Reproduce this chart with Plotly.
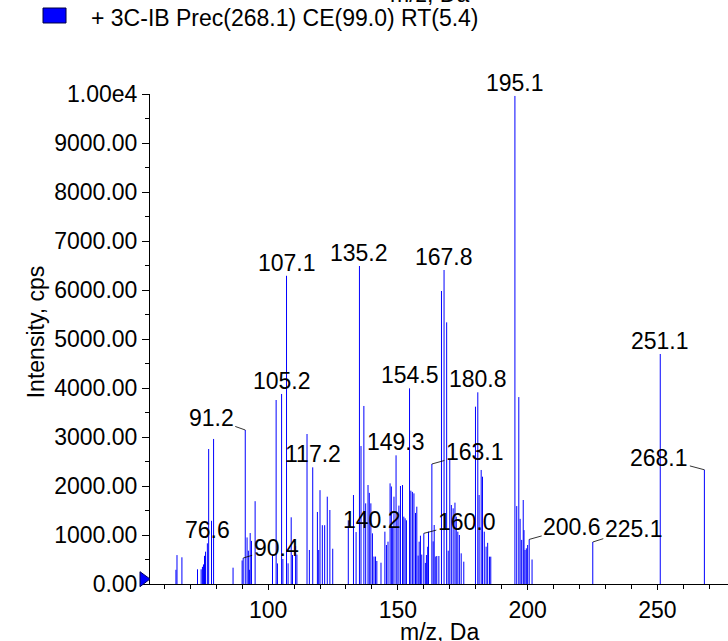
import plotly.graph_objects as go

# ---------------- data ----------------
mz = [64.5, 64.9, 66.8, 72.8, 74.2, 74.7, 75.1, 75.5, 75.9, 76.6, 77.1, 78.2, 79.0,
      86.5, 90.0, 90.4, 91.2, 91.9, 92.4, 92.8, 93.1, 93.6, 95.0,
      101.7, 103.1, 103.6, 105.2, 105.7, 107.1, 107.7, 108.9, 109.4, 110.6, 111.1,
      115.0, 115.9, 117.2, 119.0, 119.5, 120.0, 120.9, 121.8, 122.8, 123.8, 124.9,
      130.9, 132.9, 133.9, 135.2, 135.8, 136.9, 137.6, 138.5, 139.0, 139.6,
      140.2, 140.8, 141.4, 141.9, 143.5, 145.0, 145.6, 146.2, 147.0, 147.5, 148.0, 148.5,
      149.3, 149.7, 150.4, 151.0, 151.8, 152.3, 152.8, 153.3, 154.5, 155.0, 155.6, 156.2,
      156.8, 157.3, 157.8, 158.2, 158.7, 159.2, 160.0, 160.6, 161.0, 161.5, 161.8,
      163.1, 163.6, 164.0, 164.6, 165.0, 165.8, 166.8, 167.8, 168.8, 169.4, 170.0,
      170.6, 171.3, 172.0, 172.5, 173.1, 173.7, 174.4, 175.4,
      179.9, 180.8, 181.3, 182.1, 182.6, 183.3, 184.0, 184.6, 185.3, 185.8,
      195.1, 195.8, 196.6, 197.1, 197.7, 198.3, 198.6, 199.0, 199.5, 200.0, 200.6, 201.7,
      225.1, 251.1, 268.1]
intensity = [290, 590, 545, 300, 300, 350, 400, 575, 660, 830, 2755, 1290, 2960,
             333, 480, 530, 3143, 950, 680, 290, 1040, 880, 1690,
             592, 3755, 420, 3878, 510, 6290, 422, 1361, 592, 775, 600,
             3061, 694, 2381, 1470, 694, 1915, 1200, 1200, 1782, 1510, 720,
             1300, 1816, 1060, 6490, 2816, 3633, 1646, 2020, 1860, 1646,
             1034, 560, 560, 470, 435, 1068, 796, 864, 2054, 1990, 1170, 1782,
             2626, 1340, 1600, 2000, 2020, 1374, 1340, 1300, 3993, 1905, 1880, 1850,
             1450, 1578, 580, 864, 986, 600, 1034, 430, 592, 760, 1068,
             2449, 870, 1204, 560, 571, 571, 5980, 6408, 5340, 680, 2544,
             1612, 1544, 1660, 1374, 1068, 1000, 626, 456,
             3619, 3912, 1816, 2327, 2190, 1068, 762, 840, 558, 558,
             9960, 1590, 3815, 1330, 900, 1714, 1100, 694, 728, 796, 910, 500,
             857, 4694, 2331]

peak_labels = ["76.6", "90.4", "91.2", "105.2", "107.1", "117.2", "135.2", "140.2",
               "149.3", "154.5", "160.0", "163.1", "167.8", "180.8", "195.1",
               "200.6", "225.1", "251.1", "268.1"]

y_tick_values = [0, 1000, 2000, 3000, 4000, 5000, 6000, 7000, 8000, 9000, 10000]
y_tick_text = ["0.00", "1000.00", "2000.00", "3000.00", "4000.00", "5000.00",
               "6000.00", "7000.00", "8000.00", "9000.00", "1.00e4"]
x_tick_values = [100, 150, 200, 250]

legend_text = "+ 3C-IB Prec(268.1) CE(99.0) RT(5.4)"
x_title = "m/z, Da"
y_title = "Intensity, cps"

# ---------------- styling ----------------
FONT = "Arial, 'Liberation Sans', sans-serif"
FS = 23
BLUE = "#0000FF"
# leader-line offsets (pixels) for labels that sit beside their peak
leader = {"91.2": (-34, -12), "90.4": (33, -10), "163.1": (43, -12),
          "160.0": (43, -11), "200.6": (43, -12), "225.1": (41, -13),
          "268.1": (-45, -12)}

# stick spectrum built from the data arrays
xs, ys = [], []
for m, v in zip(mz, intensity):
    xs += [m, m, None]
    ys += [0, v, None]

fig = go.Figure()
fig.add_trace(go.Scatter(x=xs, y=ys, mode="lines",
                         line=dict(color=BLUE, width=1),
                         hoverinfo="skip", showlegend=False))

annotations = []
lookup = {f"{m:.1f}": v for m, v in zip(mz, intensity)}
for lab in peak_labels:
    m = float(lab)
    v = lookup[lab]
    if lab in leader:
        ax, ay = leader[lab]
        annotations.append(dict(x=m, y=v, xref="x", yref="y", text=lab,
                                showarrow=True, arrowhead=0, arrowwidth=0.8,
                                arrowcolor="black", ax=ax, ay=ay,
                                font=dict(family=FONT, size=FS, color="black")))
    else:
        annotations.append(dict(x=m, y=v, xref="x", yref="y", text=lab,
                                showarrow=False, xanchor="center", yanchor="bottom",
                                yshift=-2,
                                font=dict(family=FONT, size=FS, color="black")))

# legend text, axis titles, clipped title of the panel above
annotations += [
    dict(x=-0.1055, y=1.1551, xref="paper", yref="paper", text=legend_text,
         showarrow=False, xanchor="left", yanchor="middle",
         font=dict(family=FONT, size=FS, color="black")),
    dict(x=0.5, y=-0.068, xref="paper", yref="paper", text=x_title,
         showarrow=False, xanchor="center", yanchor="top",
         font=dict(family=FONT, size=FS, color="black")),
    dict(x=-0.197, y=0.514, xref="paper", yref="paper", text=y_title,
         showarrow=False, xanchor="center", yanchor="middle", textangle=-90,
         font=dict(family=FONT, size=FS, color="black")),
    dict(x=0.4827, y=1.1735, xref="paper", yref="paper", text=x_title,
         showarrow=False, xanchor="center", yanchor="bottom",
         font=dict(family=FONT, size=FS, color="black")),
]

shapes = [
    # legend swatch
    dict(type="rect", xref="paper", yref="paper", x0=-0.1851, x1=-0.1453,
         y0=1.1449, y1=1.1755, fillcolor=BLUE, line=dict(color="#000040", width=1)),
    # zero marker triangle on the y axis
    dict(type="path", xref="paper", yref="paper",
         path="M -0.0173,0.0251 L 0,0.0102 L -0.0173,-0.0055 Z",
         fillcolor=BLUE, line=dict(color="#000060", width=1)),
]

fig.update_layout(
    width=728, height=641,
    margin=dict(l=150, r=0, t=94, b=57),
    paper_bgcolor="white", plot_bgcolor="white",
    font=dict(family=FONT, size=FS, color="black"),
    annotations=annotations, shapes=shapes,
    showlegend=False,
    xaxis=dict(range=[54.5, 277.2], tickvals=x_tick_values,
               ticks="outside", ticklen=5, tickwidth=1, tickcolor="black",
               showline=True, linecolor="black", linewidth=1,
               showgrid=False, zeroline=False,
               tickfont=dict(family=FONT, size=FS, color="black"),
               minor=dict(dtick=10, tick0=0, ticks="outside", ticklen=4,
                          tickcolor="black", showgrid=False)),
    yaxis=dict(range=[0, 10000], tickvals=y_tick_values, ticktext=y_tick_text,
               ticks="outside", ticklen=7, tickwidth=1, tickcolor="black",
               showline=True, linecolor="black", linewidth=1,
               showgrid=False, zeroline=False,
               tickfont=dict(family=FONT, size=FS, color="black"),
               minor=dict(dtick=500, tick0=0, ticks="outside", ticklen=4,
                          tickcolor="black", showgrid=False)),
)

fig.write_html("out.html",
               config={"displayModeBar": False},
               post_script="document.body.style.margin='0px';"
                           "document.body.style.overflow='hidden';")
